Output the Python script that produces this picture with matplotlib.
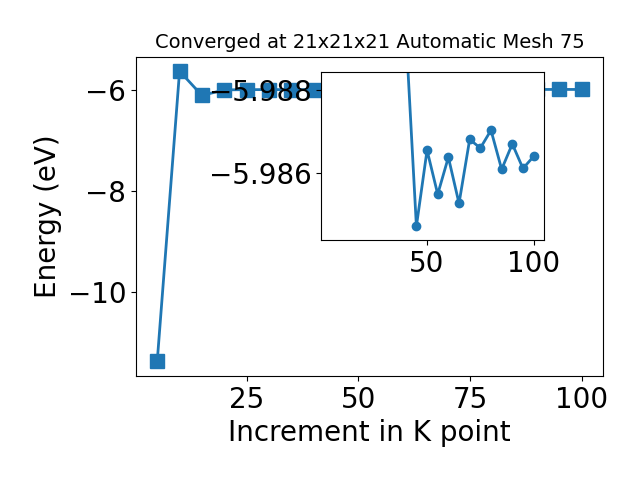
import matplotlib
matplotlib.use("Agg")
import matplotlib.pyplot as plt

# k-point increments and total energies
kpoints = [5, 10, 15, 20, 25, 30, 35, 40, 45, 50, 55, 60, 65, 70, 75, 80, 85, 90, 95, 100]
energy = [-11.37, -5.624, -6.105, -5.995, -5.990, -5.9895, -5.9896, -5.98946,
          -5.98472, -5.98655, -5.98549, -5.98638, -5.98527, -5.98681, -5.98660,
          -5.98703, -5.98609, -5.98670, -5.98611, -5.98640]
inset_start = 7  # inset starts at 40

plt.rcParams['font.size'] = 20

fig = plt.figure(figsize=(6.4, 4.8), dpi=100)
ax = fig.add_axes([0.2125, 0.217, 0.7297, 0.665])
ax.plot(kpoints, energy, marker='s', markersize=10, linewidth=2, color='#1f77b4')
ax.set_xlabel("Increment in K point")
ax.set_ylabel("Energy (eV)")
ax.set_title("Converged at 21x21x21 Automatic Mesh 75", fontsize=14)

# zoomed inset around the converged values
axin = fig.add_axes([0.5016, 0.5, 0.348, 0.35])
axin.plot(kpoints[inset_start:], energy[inset_start:], marker='o', markersize=6,
          linewidth=2, color='#1f77b4')
axin.set_xlim(ax.get_xlim())
axin.set_ylim(-5.98439, -5.98843)
axin.set_yticks([-5.988, -5.986])

fig.savefig("out.png")
